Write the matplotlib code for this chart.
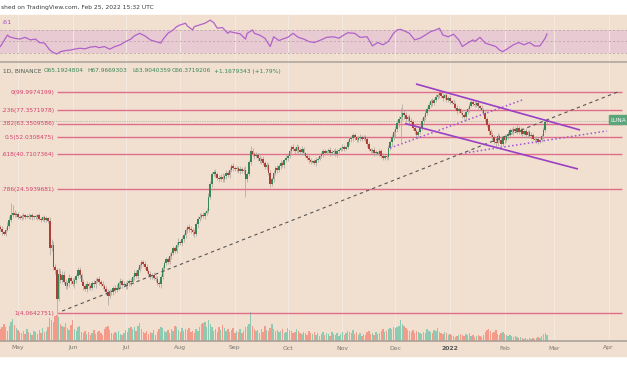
import matplotlib
matplotlib.use("Agg")
import matplotlib.pyplot as plt
from matplotlib.patches import Rectangle
from matplotlib.transforms import blended_transform_factory as blend
import numpy as np

plt.rcParams['font.family'] = ['DejaVu Sans']

# ---------------- data ----------------
# daily closes, day 0 = 2021-04-21 ... day 310 = 2022-02-25
close = [
    13.8, 13.2, 12.9, 13.6, 14.5, 15.8, 17.0, 17.5, 16.8, 17.2,
    16.5, 16.2, 16.6, 16.9, 16.4, 16.7, 16.5, 16.9, 16.3, 16.6,
    16.4, 16.8, 16.0, 15.7, 16.3, 15.8, 16.1, 15.6, 10.4, 10.9,
    8.0, 7.6, 5.0, 7.2, 6.6, 7.1, 6.4, 6.0, 6.3, 6.8,
    6.5, 6.2, 6.6, 7.0, 7.6, 7.1, 6.4, 6.0, 5.8, 6.2,
    6.0, 5.9, 6.3, 6.2, 6.5, 6.7, 6.4, 6.2, 6.0, 5.8,
    5.5, 5.2, 5.6, 5.5, 5.9, 5.7, 5.9, 6.3, 6.5, 6.1,
    6.2, 6.0, 6.3, 6.5, 6.4, 6.9, 7.3, 7.0, 7.6, 8.2,
    8.5, 8.3, 8.0, 7.5, 7.2, 7.0, 7.1, 6.8, 6.7, 6.3,
    6.2, 6.9, 7.8, 8.4, 8.9, 8.6, 9.3, 9.8, 10.4, 10.1,
    11.0, 11.5, 11.3, 12.0, 12.6, 13.5, 14.2, 13.8, 13.5, 13.2,
    12.8, 14.8, 16.0, 16.5, 17.0, 16.6, 17.5, 18.0, 22.0, 26.5,
    30.5, 31.5, 30.5, 29.0, 28.5, 29.5, 28.3, 29.8, 31.0, 30.0,
    32.5, 34.5, 33.5, 32.8, 33.2, 32.0, 33.0, 31.8, 32.5, 28.5,
    30.5, 36.5, 43.0, 41.0, 39.5, 40.5, 38.5, 37.0, 38.0, 36.0,
    34.0, 35.0, 31.0, 26.5, 28.5, 31.0, 33.5, 32.5, 34.5, 36.0,
    35.0, 37.5, 38.5, 39.5, 43.0, 45.5, 44.0, 42.5, 45.0, 43.5,
    42.0, 44.0, 41.5, 40.0, 38.5, 37.5, 36.5, 37.0, 36.0, 37.5,
    38.0, 39.5, 41.0, 42.5, 41.5, 42.5, 43.5, 41.5, 42.0, 43.0,
    41.0, 42.5, 43.5, 44.5, 45.5, 44.0, 45.0, 48.5, 50.5, 51.5,
    53.5, 52.0, 50.0, 51.5, 52.5, 51.0, 52.5, 50.5, 47.0, 44.0,
    42.5, 43.5, 41.5, 42.0, 41.0, 42.5, 40.0, 38.5, 39.5, 39.0,
    44.5, 48.5, 52.0, 56.0, 58.5, 64.0, 68.0, 70.0, 74.0, 72.0,
    68.0, 70.0, 66.0, 65.0, 60.0, 57.0, 54.0, 56.0, 60.0, 66.0,
    70.0, 74.0, 79.0, 83.0, 88.0, 86.0, 90.0, 94.0, 96.0, 99.0,
    95.0, 92.0, 96.0, 90.0, 92.0, 88.0, 86.0, 84.0, 80.0, 76.0,
    78.0, 74.0, 72.0, 70.0, 75.0, 78.0, 82.0, 87.0, 85.0, 83.0,
    86.0, 82.0, 80.0, 77.0, 74.0, 68.0, 62.0, 57.0, 54.0, 52.0,
    49.0, 48.0, 53.0, 50.0, 47.0, 52.0, 50.0, 53.0, 55.0, 58.0,
    56.0, 59.0, 57.0, 60.0, 56.0, 58.0, 55.0, 57.0, 54.0, 56.0,
    53.0, 54.0, 51.0, 50.0, 51.0, 49.0, 50.0, 53.0, 58.0, 65.1924804,
    66.3719206,
]
first_open = 14.2

# wick length in percent of price, one digit per day
wick_up = ("3423564543" "3243234232" "3243234253" "6438865435" "3543543435"
           "3435434343" "4534345343" "4353434543" "4354343434" "3454345343"
           "4534343453" "4345343454" "4343435343" "4343434345" "4374343434"
           "3434343434" "3243424353" "3432343234" "3234323432" "3432432343"
           "4323432343" "2343234323" "4354545555" "4354343434" "3434343434"
           "3424342534" "3243534243" "3424343534" "3543425343" "3424343243"
           "3423432343" "2")
wick_dn = ("3423243432" "3234323432" "3423243433" "5633543435" "4354343534"
           "3434534343" "4534343454" "3434534343" "4343454343" "4534343434"
           "3434543434" "4353434343" "4343434343" "4343434343" "4343434343"
           "3434343434" "3434343434" "3432343234" "3234323432" "3432432343"
           "4323432343" "2343234323" "4354545455" "4354343434" "3434343434"
           "3424342534" "3243534243" "3424343534" "3543425343" "3424343243"
           "3423432343" "2")
high_override = {6: 20.0, 7: 19.5, 29: 12.0, 33: 7.8, 142: 46.0, 227: 80.0,
                 228: 85.0, 249: 103.0, 267: 90.0, 293: 63.0, 310: 67.9669303}
low_override = {28: 9.5, 32: 4.0642751, 61: 4.6, 139: 22.0, 153: 25.3,
                227: 49.0, 281: 45.0, 310: 63.9040359}

volume = [
    12, 15, 18, 14, 10, 16, 20, 23, 17, 13, 11,
    9, 8, 10, 7, 12, 9, 8, 6, 10, 9, 7, 11, 8, 13, 9, 10, 14,
    24, 22, 20, 26, 27, 25, 18, 16,
    15, 19, 13, 11, 17, 22, 12, 10, 14, 16,
    9, 8, 10, 7, 9, 6, 8, 11, 7, 9, 10, 8, 6, 12, 14,
    16, 11, 8, 7, 9, 8, 10, 7, 6, 8, 11, 9, 13, 15, 12,
    14, 10, 16, 19, 12, 9, 8, 10, 7, 9, 8, 11, 6, 9, 12,
    14, 13, 10, 9, 11, 8, 12, 10, 16, 14, 11, 9, 13, 10, 12,
    11, 13, 9, 10, 8, 12, 10, 14, 18, 19, 20, 15, 22, 18, 14,
    10, 12, 9, 14, 11, 17, 13, 10, 12, 9, 11, 13, 8, 10, 9, 12, 8, 10,
    14, 16, 18, 30, 16, 12, 10, 11, 8, 12, 9, 16, 11, 10,
    13, 18, 12, 10, 11, 9, 10, 12, 8, 9, 13, 11, 10, 8, 9, 12, 10, 8,
    7, 9, 8, 6, 10, 8, 7, 9, 6, 8, 5, 7, 9, 6, 8, 7, 5, 9, 7, 6, 8, 5, 7, 9, 6, 8,
    10, 9, 8, 11, 7, 9, 6, 8, 5, 7, 6, 9, 10, 7, 8, 6, 9, 7, 8, 10, 12, 9,
    10, 12, 13, 12, 14, 13, 14, 16, 22, 18, 16, 13, 11, 10, 9, 11, 8,
    10, 9, 8, 7, 9, 8, 12, 10, 9, 8, 11, 10, 13, 9, 8, 7, 9, 8, 6, 7,
    6, 5, 4, 5, 6, 7, 6, 5, 7, 6, 8, 5, 6, 4, 5,
    6, 5, 4, 6, 9, 11, 12, 10, 8, 9, 11, 7, 6, 8, 9, 7, 6, 5, 6, 5,
    4, 5, 4, 3, 4, 3, 2, 3, 2, 3, 2, 3, 2, 3, 4, 3, 5, 7, 8, 6,
]

rsi_day = [0, 4, 5, 8, 11, 14, 17, 20, 22, 25, 28, 30, 32, 34, 37, 40, 42, 45, 48, 51,
           54, 56, 59, 62, 65, 68, 71, 74, 76, 79, 82, 85, 88, 91, 92, 95, 98, 100, 102, 105,
           106, 109, 110, 113, 116, 119, 121, 123, 126, 129, 130, 133, 136, 139, 140, 143, 144, 147, 150, 153,
           155, 158, 160, 163, 166, 169, 172, 175, 178, 181, 185, 189, 192, 194, 197, 201, 204, 208, 211, 214,
           217, 220, 223, 225, 227, 230, 232, 235, 238, 241, 244, 247, 249, 251, 254, 257, 260, 262, 265, 268,
           269, 272, 275, 278, 281, 283, 285, 288, 291, 294, 297, 300, 303, 306, 309, 310]
rsi_val = [41, 61, 58, 55.5, 54, 57, 52.6, 54, 48, 47, 35, 30.5, 28, 32, 34, 35, 36.4, 38, 37, 40,
           41, 39, 41, 36.4, 41, 44, 49.7, 54, 59.6, 64, 59.6, 52.6, 49.7, 47, 52.6, 64, 70, 75.7, 78.7, 81.6,
           77, 70, 75.7, 78.7, 81.6, 87, 82.7, 73, 74, 64, 67, 65, 63, 54, 64, 70, 64, 61, 55.5, 41,
           58, 51.4, 54, 57, 64, 57, 54, 49.7, 48, 51.4, 57, 58, 55.5, 59.6, 65, 64, 57, 58, 42, 48,
           44, 49.7, 64, 70, 71, 67, 64, 52.6, 55.5, 61, 67, 70, 73, 61, 58, 62.5, 52.6, 41, 47, 52.6,
           49.7, 57, 47, 44, 41, 35, 32, 38, 44, 48, 44, 48, 42, 42, 55.5, 63]

month_day = [10, 41, 71, 102, 133, 163, 194, 224, 255, 286, 314, 345]
month_lbl = ['May', 'Jun', 'Jul', 'Aug', 'Sep', 'Oct', 'Nov', 'Dec', '2022', 'Feb', 'Mar', 'Apr']

# fib labels as far as they are visible at the left edge of the reference
fib_label = ['0(99.9974199)', '.236(77.3571978)', '.382(63.3509586)', '0.5(52.0308475)',
             '.618(40.7107364)', '.786(24.5939681)', '1(4.0642751)']
fib_price = [99.9974199, 77.3571978, 63.3509586, 52.0308475, 40.7107364, 24.5939681, 4.0642751]
fib_start_day = 32

trend_upper = [(235.7, 112.8), (328.8, 57.9)]
trend_lower = [(229.5, 63.6), (327.6, 32.9)]
trend_dot1 = [(221.0, 44.6), (295.9, 89.4)]
trend_dot2 = [(263.5, 41.5), (344.0, 57.1)]
trend_dash = [(35.0, 4.2), (351.5, 101.9)]

ohlc_parts = ['1D, BINANCE', 'O65.1924804', 'H67.9669303', 'L63.9040359',
              'C66.3719206', '+1.1679343 (+1.79%)']
header = 'shed on TradingView.com, Feb 25, 2022 15:32 UTC'
rsi_label = '.61'
symbol = 'LUNA'

# ---------------- layout ----------------
W, H = 627, 376
fig = plt.figure(figsize=(W / 100, H / 100), dpi=100)
fig.patch.set_facecolor('white')

BG = '#f1e0cf'
GREEN = '#378656'
RED = '#ad4036'


def rect(x0, y0, x1, y1):
    return [x0 / W, 1 - y1 / H, (x1 - x0) / W, (y1 - y0) / H]


fig.patches.append(Rectangle((0, 1 - 356 / H), 1, (356 - 15) / H,
                             transform=fig.transFigure, color=BG, zorder=-10))

XL = (-0.227, 355.4)

# RSI panel
ar = fig.add_axes(rect(0, 15, W, 62))
ar.set_facecolor('none')
ar.set_xlim(*XL)
ar.set_ylim(14, 96)
ar.axhspan(30, 70, color='#e8cad3', lw=0, zorder=0)
for lv in (30, 50, 70):
    ar.axhline(lv, color='#baa6aa', lw=0.6, ls=(0, (2.5, 2.5)), zorder=1)
for d in month_day:
    ar.axvline(d, color='#f5eadf', lw=0.7, zorder=0.5)
ar.plot(rsi_day, rsi_val, color='#b062c8', lw=0.9, zorder=3)
for s in ar.spines.values():
    s.set_visible(False)
ar.set_xticks([]); ar.set_yticks([])

# main panel
ax = fig.add_axes(rect(0, 62, W, 341))
ax.set_facecolor('none')
ax.set_yscale('log')
ax.set_xlim(*XL)
ax.set_ylim(2.722, 155.1)

# volume overlay (drawn first, underneath)
av = fig.add_axes(rect(0, 62, W, 341), zorder=0)
av.set_facecolor('none')
av.set_xlim(*XL)
av.set_ylim(0, max(volume) * 279 / 29)
for d in month_day:
    av.axvline(d, color='#f5eadf', lw=0.7, zorder=0.5)
n = len(close)
days = np.arange(n)
opens = [first_open] + close[:-1]
up = [c >= o for o, c in zip(opens, close)]
av.bar(days, volume, width=0.78, color=['#8ecab2' if u else '#f39a8a' for u in up],
       lw=0, zorder=1)
av.set_xticks([]); av.set_yticks([])
for s in av.spines.values():
    s.set_visible(False)
ax.set_zorder(1)

highs, lows = [], []
for i in range(n):
    hi = max(opens[i], close[i]) * (1 + int(wick_up[i]) / 100)
    lo = min(opens[i], close[i]) * (1 - int(wick_dn[i]) / 100)
    highs.append(high_override.get(i, hi))
    lows.append(low_override.get(i, lo))

ax.vlines(days, lows, highs, color='#a8a29c', lw=0.5, zorder=3)
bot = [min(o, c) for o, c in zip(opens, close)]
top = [max(max(o, c), min(o, c) * 1.01) for o, c in zip(opens, close)]
ax.bar(days, np.array(top) - np.array(bot), bottom=bot, width=0.88,
       color=[GREEN if u else RED for u in up], lw=0, zorder=4)

# fib levels
for lbl, p in zip(fib_label, fib_price):
    ax.hlines(p, fib_start_day, 352.6, color='#de6f8a', lw=1.0, zorder=2)
    ax.text(fib_start_day - 1.3, p, lbl, color='#d2406c', fontsize=4.2,
            ha='right', va='center', zorder=5)

# current price line
ax.axhline(close[-1], color='#8aa090', lw=0.5, ls=(0, (1, 1.5)), zorder=2)

# trend lines
(x0, y0), (x1, y1) = trend_dash
ax.plot([x0, x1], [y0, y1], color='#555555', lw=0.8, ls=(0, (3, 3)), zorder=5)
for tl in (trend_upper, trend_lower):
    ax.plot([tl[0][0], tl[1][0]], [tl[0][1], tl[1][1]], color='#9b3fc6', lw=1.2, zorder=6,
            solid_capstyle='butt')
for tl in (trend_dot1, trend_dot2):
    ax.plot([tl[0][0], tl[1][0]], [tl[0][1], tl[1][1]], color='#a552d6', lw=1.1,
            ls=(0, (1, 1.6)), zorder=6)

for s in ax.spines.values():
    s.set_visible(False)
ax.set_xticks([]); ax.set_yticks([])
ax.yaxis.set_minor_locator(matplotlib.ticker.NullLocator())

# bottom axis line and separator
fig.add_artist(plt.Line2D([0, 1], [1 - 341 / H] * 2, transform=fig.transFigure,
                          color='#a59d95', lw=1.1))
fig.add_artist(plt.Line2D([0, 1], [1 - 62 / H] * 2, transform=fig.transFigure,
                          color='#aaa29a', lw=1.1))

# month labels
bt = blend(ax.transData, fig.transFigure)
for d, lbl in zip(month_day, month_lbl):
    ax.text(d, 1 - 348 / H, lbl, transform=bt, ha='center', va='center',
            fontsize=4.4, color='#555555' if lbl == '2022' else '#7a7570',
            fontweight='bold' if lbl == '2022' else 'normal', clip_on=False)

# header and legends
fig.text(1 / W, 1 - 8 / H, header, fontsize=4.3, color='#3a3a3a', va='center', ha='left')
fig.text(1 / W, 1 - 23 / H, rsi_label, fontsize=4.6, color='#a24fbf', va='center', ha='left')
px = [2.7, 44, 87, 132, 172, 214]
for t, xp in zip(ohlc_parts, px):
    fig.text(xp / W, 1 - 71 / H, t, fontsize=4.2, va='center', ha='left',
             color='#4b5a52' if t.startswith('1D') else GREEN)

# symbol price tag
fig.patches.append(Rectangle((609 / W, 1 - 124.5 / H), 18 / W, 9 / H,
                             transform=fig.transFigure, color='#5aa57a', zorder=10))
fig.text(610.5 / W, 1 - 120 / H, symbol, fontsize=4.2, color='white', va='center',
         ha='left', zorder=11)

fig.savefig('out.png', dpi=100, facecolor='white')
